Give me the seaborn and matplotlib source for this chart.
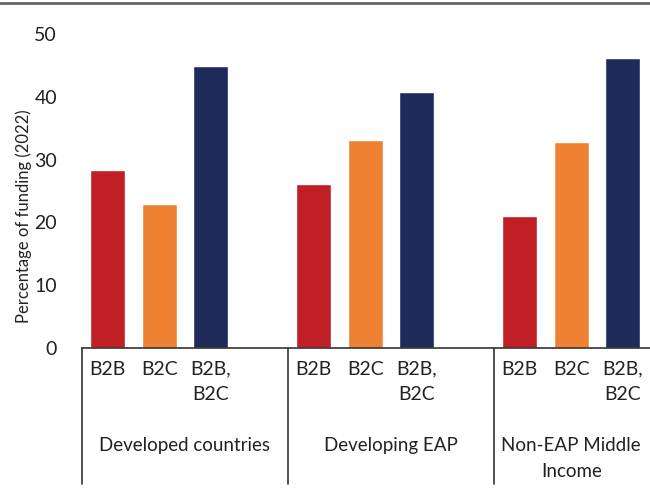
import pandas as pd
import numpy as np
import seaborn as sns
import matplotlib.pyplot as plt
from matplotlib.lines import Line2D
import matplotlib.transforms as mtransforms

sns.set_style('white')
plt.rcParams['font.family'] = ['Lato', 'DejaVu Sans']

# data
groups = ['Developed countries', 'Developing EAP', 'Non-EAP Middle\nIncome']
types = ['B2B', 'B2C', 'B2B,\nB2C']
b2b = [28.3, 26.1, 21.0]
b2c = [22.9, 33.1, 32.8]
both = [44.9, 40.8, 46.2]
colors = ['#C01F26', '#EE8232', '#1E2A5A']

rows = []
for g in range(len(groups)):
    for j, vals in enumerate([b2b, b2c, both]):
        rows.append({'pos': g * 4 + j, 'value': vals[g], 'type': types[j], 'group': groups[g]})
df = pd.DataFrame(rows)

fig = plt.figure(figsize=(6.5, 4.9), dpi=100)
ax = fig.add_axes([82 / 650, 1 - 348 / 490, 1 - 82 / 650, (348 - 34) / 490])

sns.barplot(data=df, x='pos', y='value', hue='type', hue_order=types,
            palette=colors, native_scale=True, dodge=False, width=0.68,
            saturation=1, legend=False, ax=ax)

ax.set_xlim(-0.5, 10.53)
ax.set_ylim(0, 50)
ax.set_yticks(range(0, 51, 10))
ax.tick_params(axis='y', length=0, labelsize=14, pad=18, colors='#222222')
ax.set_xticks([])
ax.set_xlabel('')
ax.set_ylabel('Percentage of funding (2022)', fontsize=12, color='#222222')
ax.yaxis.set_label_coords(-0.088, 0.42)
for s in ['top', 'right', 'left']:
    ax.spines[s].set_visible(False)
ax.spines['bottom'].set_color('#333333')
ax.spines['bottom'].set_linewidth(1.2)

# category labels under the axis
trans = mtransforms.blended_transform_factory(ax.transData, ax.transAxes)
for _, r in df.iterrows():
    ax.text(r['pos'], -0.04, r['type'], transform=trans, ha='center', va='top',
            fontsize=14, color='#222222', linespacing=1.6)

# group separators and labels
for sep in [-0.5, 3.5, 7.5]:
    ax.add_line(Line2D([sep, sep], [0, -0.433], transform=trans, color='#333333',
                       lw=1.2, clip_on=False))
group_x = [1.5, 5.5, 9.0]
for gx, name in zip(group_x, groups):
    ax.text(gx, -0.285, name, transform=trans, ha='center', va='top',
            fontsize=13.5, color='#222222', linespacing=1.6)

# grey rule at the top
fig.add_artist(Line2D([0, 1], [0.994, 0.994], transform=fig.transFigure,
                      color='#666666', lw=2))

fig.savefig('out.png', dpi=100)
